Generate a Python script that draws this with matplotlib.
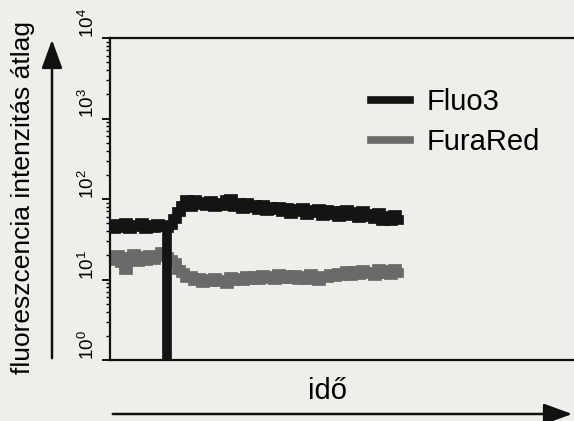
import numpy as np
import matplotlib
matplotlib.use("Agg")
import matplotlib.pyplot as plt
from matplotlib.ticker import LogLocator, NullFormatter

plt.rcParams['font.family'] = ['Liberation Sans', 'DejaVu Sans']
plt.rcParams['mathtext.fontset'] = 'custom'
plt.rcParams['mathtext.rm'] = 'Liberation Sans'
plt.rcParams['mathtext.it'] = 'Liberation Sans'

# ---- data ----
series_names = ["Fluo3", "FuraRed"]
time_step = 4
pre_start = 0
post_start = 57          # time of the stimulus artefact
dip_value = 0.3          # Fluo3 drops below the axis at the artefact

fluo3_pre = [47, 42, 49, 44, 50, 43, 48, 45, 51, 43, 47, 44, 49, 45]
furared_pre = [19, 17, 20, 16, 13, 19, 21, 16.5, 19.5, 17, 20, 17.5, 19, 22]

fluo3_post = [44, 48, 56, 68, 82, 96, 80, 98, 84, 92, 81, 94, 79, 90, 82, 96, 101, 80,
              90, 76, 88, 78, 85, 74, 84, 70, 80, 72, 79, 68, 77, 66, 75, 69, 78, 64,
              73, 67, 75, 61, 72, 63, 71, 60, 70, 74, 61, 69, 58, 70, 60, 65, 56, 67,
              54, 62, 53, 63, 55]
furared_post = [19, 17.5, 16, 13, 12, 10.5, 11, 9.5, 10.3, 9, 10.2, 9.2, 10.4, 9.3, 10,
                8.9, 10.6, 9.5, 10.4, 9.7, 11.2, 9.8, 11, 10, 11.4, 10.2, 11, 10, 11.6,
                10.1, 11.3, 10.2, 11.4, 10, 11.1, 9.9, 11.7, 10.3, 9.5, 11.2, 10.4, 11.8,
                10.6, 12.2, 10.9, 12.6, 11.2, 12.8, 11.4, 13.2, 11.6, 12.4, 11.2, 13.4,
                11.8, 13, 11.4, 13.6, 12]

ytick_values = [1, 10, 100, 1000, 10000]

time_pre = pre_start + time_step * np.arange(len(fluo3_pre))
time_post = post_start + time_step * np.arange(len(fluo3_post))

# ---- figure ----
W, H = 574, 421
bg = '#eeeeea'
fig = plt.figure(figsize=(W / 100, H / 100), dpi=100, facecolor=bg)
ax = fig.add_axes([110 / W, (H - 360) / H, 470 / W, 322 / H], facecolor=bg)

fl_t = np.concatenate([time_pre, [np.nan], [post_start], time_post])
fl_v = np.concatenate([fluo3_pre, [np.nan], [dip_value], fluo3_post])
fr_t = np.concatenate([time_pre, [np.nan], time_post])
fr_v = np.concatenate([furared_pre, [np.nan], furared_post])

ax.plot(fr_t, fr_v, color='#6a6a6a', lw=7, drawstyle='steps-mid',
        solid_joinstyle='miter', label=series_names[1], zorder=2)
ax.plot(fl_t, fl_v, color='#141414', lw=7, drawstyle='steps-mid',
        solid_joinstyle='miter', label=series_names[0], zorder=3)

ax.set_yscale('log')
ax.set_ylim(1, 10000)
ax.set_xlim(0, 470)
ax.set_xticks([])
ax.set_yticks(ytick_values)
ax.yaxis.set_minor_locator(LogLocator(base=10, subs=np.arange(2, 10)))
ax.yaxis.set_minor_formatter(NullFormatter())
ax.tick_params(axis='y', which='major', direction='out', length=6, width=1.3,
               labelsize=13.5, pad=3, labelrotation=90)
ax.tick_params(axis='y', which='minor', direction='out', length=3, width=1.0)
plt.setp(ax.get_yticklabels(), va='bottom', ha='right')

for s in ['left', 'top', 'bottom']:
    ax.spines[s].set_linewidth(1.6)
    ax.spines[s].set_color('#111111')
ax.spines['right'].set_visible(False)

# handles order: Fluo3 first
h, l = ax.get_legend_handles_labels()
order = [1, 0]
leg = ax.legend([h[i] for i in order], [l[i] for i in order],
                loc='upper left', bbox_to_anchor=(371 / W, (H - 88) / H),
                bbox_transform=fig.transFigure, frameon=False, fontsize=21,
                handlelength=1.35, handletextpad=0.55, labelspacing=0.42,
                borderpad=0, borderaxespad=0)
for lh in leg.legend_handles:
    lh.set_linewidth(5.5)

# axis annotations
fig.text(23 / W, (H - 197) / H, "fluoreszcencia intenzitás átlag", rotation=90,
         ha='center', va='center', fontsize=19)
fig.text(327 / W, (H - 391) / H, "idő", ha='center', va='center', fontsize=21)

# arrows
fig.add_artist(matplotlib.patches.FancyArrowPatch(
    (52 / W, (H - 361) / H), (52 / W, (H - 37) / H), transform=fig.transFigure,
    arrowstyle='-|>,head_length=1.1,head_width=0.4', mutation_scale=16,
    lw=1.8, color='#111111'))
fig.add_artist(matplotlib.patches.FancyArrowPatch(
    (110 / W, (H - 414) / H), (575 / W, (H - 414) / H), transform=fig.transFigure,
    arrowstyle='-|>,head_length=1.1,head_width=0.4', mutation_scale=16,
    lw=1.8, color='#111111'))

fig.savefig('out.png', dpi=100, facecolor=bg)
